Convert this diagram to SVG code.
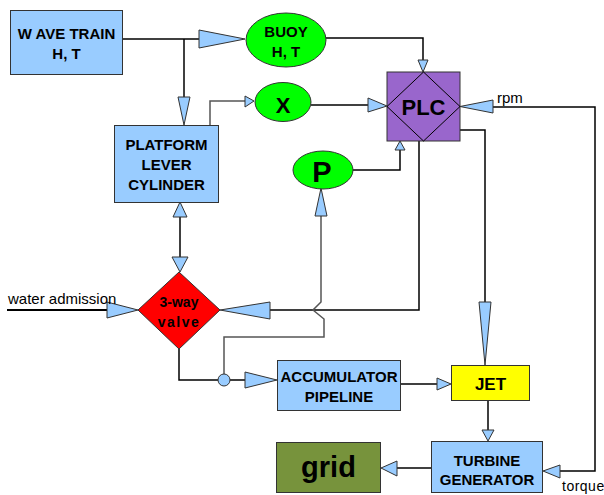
<svg xmlns="http://www.w3.org/2000/svg" width="604" height="495" viewBox="0 0 604 495">
<style>
.box{fill:#99CCFF;stroke:#333;stroke-width:1}
.ell{fill:#00FF00;stroke:#333;stroke-width:1}
.ln{fill:none;stroke:#000;stroke-width:1.5}
.lg{fill:none;stroke:#555;stroke-width:1.5}
.ah{fill:#99CCFF;stroke:#333;stroke-width:1}
.t{font-family:"Liberation Sans",Arial,sans-serif;font-weight:bold;fill:#000;text-anchor:middle}
.r{font-family:"Liberation Sans",Arial,sans-serif;fill:#000}
</style>
<rect width="604" height="495" fill="#fff"/>
<g id="connectors">
  <path class="ln" d="M123,39 H199"/>
  <polygon class="ah" points="199,30 199,48 245,39"/>
  <path class="ln" d="M184,39 V97"/>
  <polygon class="ah" points="178,97 190,97 184,125"/>
  <path class="lg" d="M210,125 V101 H245"/>
  <polygon class="ah" points="245,96 245,107 254,101"/>
  <path class="ln" d="M311,105 H368"/>
  <polygon class="ah" points="368,98 368,112 387,106"/>
  <path class="ln" d="M326,38 H423 V60"/>
  <polygon class="ah" points="418,60 428,60 423,72"/>
  <path class="ln" d="M353,170 H400 V150"/>
  <polygon class="ah" points="395,150 405,150 400,141"/>
  <path class="ln" d="M493,107 H595 V471 H560"/>
  <polygon class="ah" points="493,100 493,113 460,106.5"/>
  <polygon class="ah" points="560,465 560,478 543,471"/>
  <path class="ln" d="M460,130 H485 V302"/>
  <polygon class="ah" points="479,302 491,302 485,365"/>
  <path class="ln" d="M419,141 V310 H270"/>
  <polygon class="ah" points="270,302 270,319 220,310"/>
  <path class="lg" d="M321,216 V302 L313,310 L324,319 V337 H224 V374"/>
  <polygon class="ah" points="315,216 327,216 321,188"/>
  <path class="ln" d="M179,349 V380 H218 M230,380 H245"/>
  <circle class="ah" cx="224" cy="380" r="6"/>
  <polygon class="ah" points="245,372 245,388 277,380"/>
  <path class="ln" d="M180,217 V257"/>
  <polygon class="ah" points="173,217 187,217 180,202"/>
  <polygon class="ah" points="172,257 188,257 180,272"/>
  <path class="ln" d="M7,310 H107" style="stroke-width:2"/>
  <polygon class="ah" points="107,302 107,318 138,310"/>
  <path class="ln" d="M401,384 H437"/>
  <polygon class="ah" points="437,378 437,390 451,384"/>
  <path class="ln" d="M488,401 V430"/>
  <polygon class="ah" points="482,430 494,430 488,441"/>
  <path class="ln" d="M431,468 H397"/>
  <polygon class="ah" points="397,461 397,476 381,468"/>
  <text class="r" x="497" y="103" font-size="15">rpm</text>
  <text class="r" x="562" y="491" font-size="14" letter-spacing="0.5">torque</text>
  <text class="r" x="8" y="304" font-size="15">water admission</text>
</g>
<g id="wave-train">
  <rect class="box" x="10.5" y="10.5" width="112" height="64"/>
  <text class="t" x="66.5" y="39" font-size="15">W AVE TRAIN</text>
  <text class="t" x="66.5" y="59" font-size="15">H, T</text>
</g>
<g id="buoy">
  <ellipse class="ell" cx="286" cy="40" rx="40" ry="27"/>
  <text class="t" x="286" y="37" font-size="15">BUOY</text>
  <text class="t" x="286" y="57" font-size="15">H, T</text>
</g>
<g id="x">
  <ellipse class="ell" cx="283" cy="102" rx="28" ry="19.5"/>
  <text class="t" x="283" y="113" font-size="22">X</text>
</g>
<g id="plc">
  <rect x="387" y="72" width="73" height="69" fill="#9966CC" stroke="#333" stroke-width="1"/>
  <polygon points="423.5,72 460,106.5 423.5,141 387,106.5" fill="none" stroke="#000" stroke-width="1"/>
  <text class="t" x="423.5" y="115" font-size="22">PLC</text>
</g>
<g id="p">
  <ellipse class="ell" cx="323" cy="170" rx="30" ry="19"/>
  <text class="t" x="322" y="182" font-size="29">P</text>
</g>
<g id="platform">
  <rect class="box" x="114.5" y="125.5" width="104" height="77"/>
  <text class="t" x="166.5" y="150" font-size="15">PLATFORM</text>
  <text class="t" x="166.5" y="170" font-size="15">LEVER</text>
  <text class="t" x="166.5" y="190" font-size="15">CYLINDER</text>
</g>
<g id="valve">
  <polygon points="179,272 220,310 179,349 138,310" fill="#FF0000" stroke="#333" stroke-width="1"/>
  <text class="t" x="179" y="307" font-size="14">3-way</text>
  <text class="t" x="179" y="327" font-size="14" letter-spacing="1.5">valve</text>
</g>
<g id="accumulator">
  <rect class="box" x="277.5" y="360.5" width="123" height="50"/>
  <text class="t" x="339" y="382" font-size="15">ACCUMULATOR</text>
  <text class="t" x="339" y="402" font-size="15">PIPELINE</text>
</g>
<g id="jet">
  <rect x="451.5" y="365.5" width="78" height="35" fill="#FFFF00" stroke="#333" stroke-width="1"/>
  <text class="t" x="490.5" y="390" font-size="17">JET</text>
</g>
<g id="turbine">
  <rect class="box" x="431.5" y="441.5" width="111" height="51"/>
  <text class="t" x="487" y="466" font-size="15">TURBINE</text>
  <text class="t" x="487" y="485" font-size="15">GENERATOR</text>
</g>
<g id="grid">
  <rect x="276.5" y="442.5" width="104" height="50" fill="#77933C" stroke="#333" stroke-width="1"/>
  <text class="t" x="328.5" y="477" font-size="29">grid</text>
</g>
</svg>
